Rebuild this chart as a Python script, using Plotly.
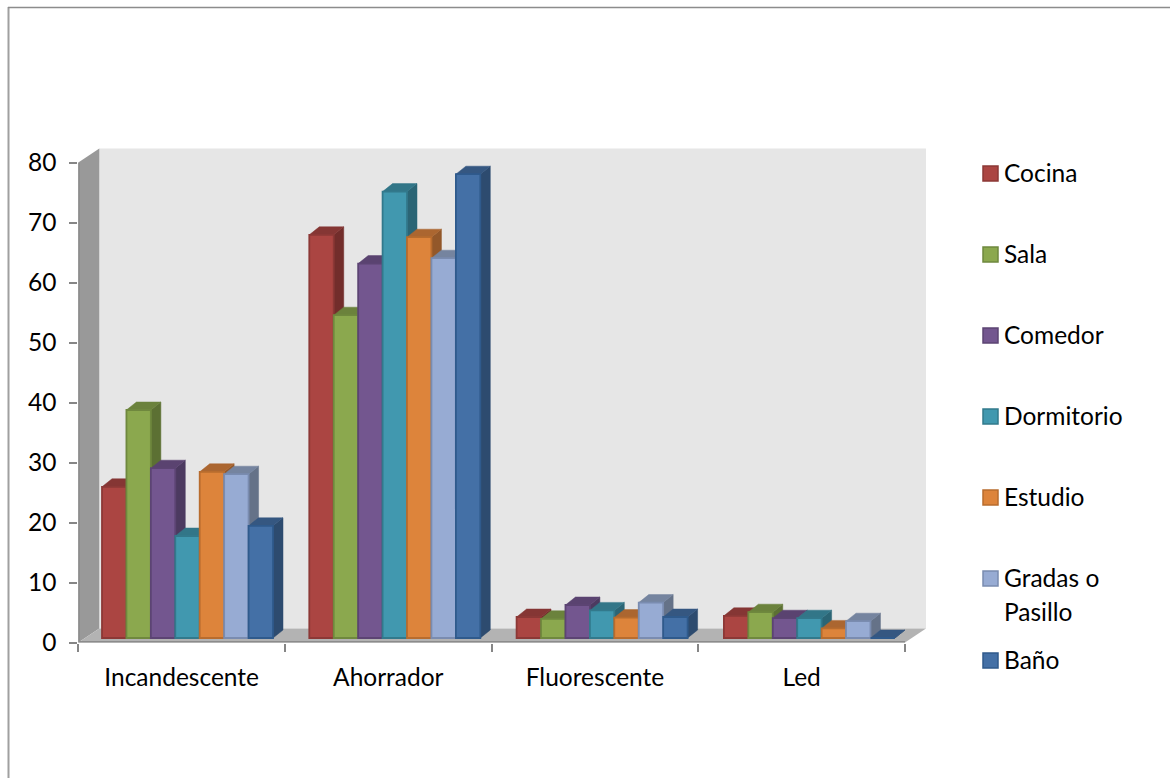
import plotly.graph_objects as go

# Data
CATEGORIES = ["Incandescente", "Ahorrador", "Fluorescente", "Led"]
ROOMS = ["Cocina", "Sala", "Comedor", "Dormitorio", "Estudio", "Gradas o", "Baño"]
COCINA = [25.2, 67.2, 3.5, 3.7]
SALA = [38.0, 53.8, 3.2, 4.3]
COMEDOR = [28.3, 62.4, 5.5, 3.3]
DORMITORIO = [17.0, 74.4, 4.6, 3.3]
ESTUDIO = [27.7, 66.8, 3.4, 1.6]
GRADAS = [27.3, 63.3, 5.9, 2.8]
BANO = [18.7, 77.3, 3.5, 0.0]
SERIES = [COCINA, SALA, COMEDOR, DORMITORIO, ESTUDIO, GRADAS, BANO]
Y_TICKS = [0, 10, 20, 30, 40, 50, 60, 70, 80]

# Face colours per series: front, outline, top, side
FRONT = ["#AB4542", "#8BA84E", "#73568F", "#4198AF", "#DD843B", "#97ABD3", "#4470A6"]
EDGE = ["#8C3836", "#6F883E", "#5C4473", "#32798C", "#B86C2E", "#7A8CB0", "#2F5A8C"]
TOP = ["#853634", "#6B823C", "#5A4370", "#327688", "#AB6630", "#75849F", "#355781"]
SIDE = ["#722D2B", "#5C7033", "#4C3A60", "#2B6575", "#93582A", "#657288", "#2D4B6F"]

W, H = 1170, 778
FONT = "Lato, Carlito, Calibri, sans-serif"
FS = 24.5
AX_GRAY = "#868686"

# Pixel frame of the value and category axes
X0, X1 = 78.3, 905.0
Y0, Y80 = 642.5, 162.5
UNIT_PX = (Y0 - Y80) / 80

# Column plane: sits slightly inside the box, with its own group spacing
COL_CAT_PX = 207.3
FIRST_GROUP_PX = 187.5
SHIFT_Y = 4.5
DEPTH_X, DEPTH_Y = 10.0, 8.0
GROUP_PX = 171.0
BOX_X, BOX_Y = 21.0, 14.0

bar_w = GROUP_PX / len(SERIES) / COL_CAT_PX
dx = DEPTH_X / COL_CAT_PX
dy = DEPTH_Y / UNIT_PX
x_start = -(FIRST_GROUP_PX - X0) / COL_CAT_PX
x_range = [x_start, x_start + (X1 - X0) / COL_CAT_PX]
y_range = [-SHIFT_Y / UNIT_PX, 80 - SHIFT_Y / UNIT_PX]


def px(x):
    return x / W


def py(y):
    return 1 - y / H


def poly(points, fill):
    path = "M " + " L ".join(f"{px(a):.5f},{py(b):.5f}" for a, b in points) + " Z"
    return dict(type="path", xref="paper", yref="paper", path=path,
                fillcolor=fill, line=dict(width=0), layer="below")


fig = go.Figure()

# Axis lines along the side wall and the floor edge
fig.add_trace(go.Scatter(x=[-0.5, -0.5, 3.5], y=[80, 0, 0], xaxis="x", yaxis="y", mode="lines",
                         line=dict(color="#8C8C8C", width=3), cliponaxis=False,
                         showlegend=False, hoverinfo="skip"))

# Extruded top and side faces, painted left to right
for s, (name, values) in enumerate(zip(ROOMS, SERIES)):
    side_x, side_y, top_x, top_y = [], [], [], []
    for c, v in enumerate(values):
        left = c - GROUP_PX / COL_CAT_PX / 2 + s * bar_w
        right = left + bar_w
        side_x += [right, right + dx, right + dx, right, right, None]
        side_y += [0, dy, v + dy, v, 0, None]
        top_x += [left, right, right + dx, left + dx, left, None]
        top_y += [v, v, v + dy, v + dy, v, None]
    for xs, ys, col in ((side_x, side_y, SIDE[s]), (top_x, top_y, TOP[s])):
        fig.add_trace(go.Scatter(x=xs, y=ys, xaxis="x2", yaxis="y2", mode="lines",
                                 fill="toself", fillcolor=col,
                                 line=dict(color=col, width=0.5),
                                 showlegend=False, hoverinfo="skip"))

# Front faces of the columns
for s, (name, values) in enumerate(zip(ROOMS, SERIES)):
    fig.add_trace(go.Bar(x=list(range(len(CATEGORIES))), y=values, name=name,
                         xaxis="x3", yaxis="y3", showlegend=False,
                         marker=dict(color=FRONT[s], line=dict(color=EDGE[s], width=1.8))))

shapes = [
    # Back wall, side wall and floor
    poly([(X0 + BOX_X, Y80 - BOX_Y), (X1 + BOX_X, Y80 - BOX_Y), (X1 + BOX_X, Y0 - BOX_Y),
          (X0 + BOX_X, Y0 - BOX_Y)], "#E6E6E6"),
    poly([(X0, Y80), (X0 + BOX_X, Y80 - BOX_Y), (X0 + BOX_X, Y0 - BOX_Y), (X0, Y0)], "#999999"),
    poly([(X0, Y0), (X0 + BOX_X, Y0 - BOX_Y), (X1 + BOX_X, Y0 - BOX_Y), (X1, Y0)], "#B3B3B3"),
    # Outer frame, open on the right and bottom
    dict(type="line", xref="paper", yref="paper", x0=px(8.5), x1=px(8.5), y0=py(7), y1=py(778),
         line=dict(color="#A0A0A0", width=2), layer="below"),
    dict(type="line", xref="paper", yref="paper", x0=px(8), x1=1, y0=py(7.5), y1=py(7.5),
         line=dict(color="#8C8C8C", width=1.5), layer="below"),
]

# Legend swatches and labels
LEGEND_Y = [173.5, 254.5, 335.5, 416.5, 497.5, 578.5, 660.5]
annotations = []
for s, (name, ly) in enumerate(zip(ROOMS, LEGEND_Y)):
    shapes.append(dict(type="rect", xref="paper", yref="paper",
                       x0=px(983), x1=px(998), y0=py(ly + 7.5), y1=py(ly - 7.5),
                       fillcolor=FRONT[s], line=dict(color=EDGE[s], width=1.5)))
    annotations.append(dict(xref="paper", yref="paper", x=px(1005), y=py(ly - 1), text=name,
                            showarrow=False, xanchor="left", yanchor="middle", xshift=-3))
annotations.append(dict(xref="paper", yref="paper", x=px(1005), y=py(611.5), text="Pasillo",
                        showarrow=False, xanchor="left", yanchor="middle", xshift=-3))

fig.update_layout(
    width=W, height=H, margin=dict(l=0, r=0, t=0, b=0, autoexpand=False), autosize=False,
    paper_bgcolor="white", plot_bgcolor="rgba(0,0,0,0)",
    font=dict(family=FONT, size=FS, color="black"),
    barmode="group", bargap=1 - GROUP_PX / COL_CAT_PX, bargroupgap=0,
    showlegend=False, shapes=shapes, annotations=annotations,
    xaxis=dict(domain=[px(X0), px(X1)], range=[-0.5, 3.5], anchor="y",
               tickmode="array", tickvals=list(range(len(CATEGORIES))), ticktext=CATEGORIES,
               ticks="outside", ticklen=13, tickcolor="rgba(0,0,0,0)",
               minor=dict(tickmode="array", tickvals=[-0.5, 0.5, 1.5, 2.5, 3.5], ticks="outside",
                          ticklen=8, tickcolor=AX_GRAY, tickwidth=2),
               showgrid=False, zeroline=False, showline=False),
    yaxis=dict(domain=[py(Y0), py(Y80)], range=[0, 80], anchor="x",
               tickmode="array", tickvals=Y_TICKS, ticks="outside", ticklen=8,
               tickcolor=AX_GRAY, tickwidth=2, ticklabelstandoff=8,
               showgrid=False, zeroline=False, showline=False),
    xaxis2=dict(overlaying="x", range=x_range, anchor="y2", visible=False),
    yaxis2=dict(overlaying="y", range=y_range, anchor="x2", visible=False),
    xaxis3=dict(overlaying="x", range=x_range, anchor="y3", visible=False),
    yaxis3=dict(overlaying="y", range=y_range, anchor="x3", visible=False),
)

fig.write_html("out.html", config=dict(displayModeBar=False))
